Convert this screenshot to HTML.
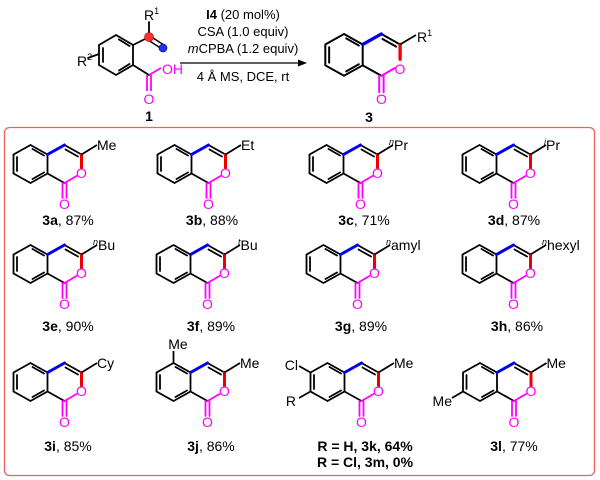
<!DOCTYPE html>
<html><head><style>
html,body{margin:0;padding:0;background:#fff;}
svg{display:block;font-family:"Liberation Sans",Arial,sans-serif;}
</style></head><body>
<svg width="600" height="480" viewBox="0 0 600 480" xmlns="http://www.w3.org/2000/svg">
<defs>
<g id="core" fill="none" stroke-linecap="round">
  <g stroke="#000" stroke-width="1.8">
    <polygon points="0,0 17,9.5 17,28.5 0,38 -17,28.5 -17,9.5"/>
    <line x1="-13.5" y1="12" x2="-13.5" y2="26"/>
    <line x1="2" y1="4" x2="13.5" y2="10.5"/>
    <line x1="2" y1="34" x2="13.5" y2="27.5"/>
    <line x1="34" y1="0" x2="51" y2="9.5"/>
    <line x1="35" y1="4.5" x2="47.5" y2="11.5"/>
    <line x1="17" y1="28.5" x2="34" y2="38"/>
  </g>
  <line x1="17" y1="9.5" x2="34" y2="0" stroke="#0000ee" stroke-width="3"/>
  <line x1="51" y1="9.5" x2="51" y2="23" stroke="#ee0000" stroke-width="3"/>
  <g stroke="#ff00ff" stroke-width="1.8">
    <line x1="46" y1="31" x2="34" y2="38"/>
    <line x1="32" y1="38" x2="32" y2="53"/>
    <line x1="36" y1="38" x2="36" y2="53"/>
  </g>
</g>
</defs>

<rect x="4.5" y="127.5" width="590" height="348" rx="5" fill="none" stroke="#f06060" stroke-width="1.3"/>

<!-- reactant 1 -->
<g stroke="#000" stroke-width="1.8" fill="none" stroke-linecap="round">
  <polygon points="116,35 133,45 133,65 116,75 99,65 99,45"/>
  <line x1="119" y1="39.5" x2="129.5" y2="46"/>
  <line x1="119" y1="70.5" x2="129.5" y2="64"/>
  <line x1="103" y1="48" x2="103" y2="62"/>
  <line x1="133" y1="45" x2="149" y2="37"/>
  <line x1="149" y1="37" x2="149" y2="22"/>
  <line x1="88" y1="58" x2="99" y2="54"/>
  <line x1="133" y1="65" x2="149" y2="75"/>
</g>
<line x1="150" y1="36" x2="164" y2="45" stroke="#000" stroke-width="1.4"/>
<line x1="148" y1="40" x2="162" y2="49" stroke="#000" stroke-width="1.4"/>
<circle cx="149" cy="37" r="4.5" fill="#ff3030" stroke="#a00" stroke-width="0.6"/>
<circle cx="163" cy="48" r="4" fill="#2030ff" stroke="#003" stroke-width="0.6"/>
<g stroke="#ff00ff" stroke-width="1.8">
  <line x1="149" y1="75" x2="161" y2="68"/>
  <line x1="147" y1="75" x2="147" y2="91"/>
  <line x1="151" y1="75" x2="151" y2="91"/>
</g>
<g font-size="14">
  <text x="144" y="20">R<tspan font-size="9" dy="-6">1</tspan></text>
  <text x="77" y="66">R<tspan font-size="9" dy="-6">2</tspan></text>
  <text x="162" y="74" fill="#ff00ff">OH</text>
  <text x="149" y="104" fill="#ff00ff" text-anchor="middle">O</text>
  <text x="149" y="121" text-anchor="middle" font-weight="bold">1</text>
</g>

<!-- arrow and conditions -->
<line x1="180" y1="63" x2="300" y2="63" stroke="#000" stroke-width="1.2"/>
<polygon points="307,63 298,59.5 298,66.5" fill="#000"/>
<g font-size="13" text-anchor="middle">
  <text x="243" y="19"><tspan font-weight="bold">I4</tspan> (20 mol%)</text>
  <text x="243" y="36">CSA (1.0 equiv)</text>
  <text x="243" y="53"><tspan font-style="italic">m</tspan>CPBA (1.2 equiv)</text>
  <text x="243" y="81">4 Å MS, DCE, rt</text>
</g>

<!-- product 3 -->
<use href="#core" transform="translate(344,34) scale(1.1)"/>
<g font-size="14">
  <text x="400" y="74" fill="#ff00ff" text-anchor="middle">O</text>
  <text x="381.5" y="104" fill="#ff00ff" text-anchor="middle">O</text>
  <line x1="400" y1="44.5" x2="416" y2="35" stroke="#000" stroke-width="1.8"/>
  <text x="417" y="42">R<tspan font-size="9" dy="-6">1</tspan></text>
  <text x="369" y="122" text-anchor="middle" font-weight="bold">3</text>
</g>

<g font-size="14">
<!-- 3a -->
<use href="#core" transform="translate(30.5,145)"/>
<text x="81.5" y="178" fill="#ff00ff" text-anchor="middle">O</text><text x="64.5" y="209" fill="#ff00ff" text-anchor="middle">O</text>
<line x1="81.5" y1="154.5" x2="97" y2="145" stroke="#000" stroke-width="1.8"/><text x="97" y="150">Me</text>
<text x="68" y="225" text-anchor="middle"><tspan font-weight="bold">3a</tspan>, 87%</text>
<!-- 3b -->
<use href="#core" transform="translate(174.5,145)"/>
<text x="225.5" y="178" fill="#ff00ff" text-anchor="middle">O</text><text x="208.5" y="209" fill="#ff00ff" text-anchor="middle">O</text>
<line x1="225.5" y1="154.5" x2="241" y2="145" stroke="#000" stroke-width="1.8"/><text x="241" y="150">Et</text>
<text x="212" y="225" text-anchor="middle"><tspan font-weight="bold">3b</tspan>, 88%</text>
<!-- 3c -->
<use href="#core" transform="translate(326.5,145)"/>
<text x="377.5" y="178" fill="#ff00ff" text-anchor="middle">O</text><text x="360.5" y="209" fill="#ff00ff" text-anchor="middle">O</text>
<line x1="377.5" y1="154.5" x2="393" y2="145" stroke="#000" stroke-width="1.8"/><text x="389" y="150"><tspan font-size="9" font-style="italic" dy="-5">n</tspan><tspan dy="5">Pr</tspan></text>
<text x="364" y="225" text-anchor="middle"><tspan font-weight="bold">3c</tspan>, 71%</text>
<!-- 3d -->
<use href="#core" transform="translate(479.5,145)"/>
<text x="530.5" y="178" fill="#ff00ff" text-anchor="middle">O</text><text x="513.5" y="209" fill="#ff00ff" text-anchor="middle">O</text>
<line x1="530.5" y1="154.5" x2="546" y2="145" stroke="#000" stroke-width="1.8"/><text x="544" y="150"><tspan font-size="9" font-style="italic" dy="-5">i</tspan><tspan dy="5">Pr</tspan></text>
<text x="514" y="225" text-anchor="middle"><tspan font-weight="bold">3d</tspan>, 87%</text>

<!-- 3e -->
<use href="#core" transform="translate(30.5,245)"/>
<text x="81.5" y="278" fill="#ff00ff" text-anchor="middle">O</text><text x="64.5" y="309" fill="#ff00ff" text-anchor="middle">O</text>
<line x1="81.5" y1="254.5" x2="97" y2="245" stroke="#000" stroke-width="1.8"/><text x="93" y="250"><tspan font-size="9" font-style="italic" dy="-5">n</tspan><tspan dy="5">Bu</tspan></text>
<text x="68" y="331" text-anchor="middle"><tspan font-weight="bold">3e</tspan>, 90%</text>
<!-- 3f -->
<use href="#core" transform="translate(173.5,245)"/>
<text x="224.5" y="278" fill="#ff00ff" text-anchor="middle">O</text><text x="207.5" y="309" fill="#ff00ff" text-anchor="middle">O</text>
<line x1="224.5" y1="254.5" x2="240" y2="245" stroke="#000" stroke-width="1.8"/><text x="238" y="250"><tspan font-size="9" font-style="italic" dy="-5">t</tspan><tspan dy="5">Bu</tspan></text>
<text x="211" y="331" text-anchor="middle"><tspan font-weight="bold">3f</tspan>, 89%</text>
<!-- 3g -->
<use href="#core" transform="translate(323.5,245)"/>
<text x="374.5" y="278" fill="#ff00ff" text-anchor="middle">O</text><text x="357.5" y="309" fill="#ff00ff" text-anchor="middle">O</text>
<line x1="374.5" y1="254.5" x2="390" y2="245" stroke="#000" stroke-width="1.8"/><text x="386" y="250"><tspan font-size="9" font-style="italic" dy="-5">n</tspan><tspan dy="5">amyl</tspan></text>
<text x="361" y="331" text-anchor="middle"><tspan font-weight="bold">3g</tspan>, 89%</text>
<!-- 3h -->
<use href="#core" transform="translate(479.5,245)"/>
<text x="530.5" y="278" fill="#ff00ff" text-anchor="middle">O</text><text x="513.5" y="309" fill="#ff00ff" text-anchor="middle">O</text>
<line x1="530.5" y1="254.5" x2="546" y2="245" stroke="#000" stroke-width="1.8"/><text x="542" y="250"><tspan font-size="9" font-style="italic" dy="-5">n</tspan><tspan dy="5">hexyl</tspan></text>
<text x="517" y="331" text-anchor="middle"><tspan font-weight="bold">3h</tspan>, 86%</text>

<!-- 3i -->
<use href="#core" transform="translate(30.5,363)"/>
<text x="81.5" y="396" fill="#ff00ff" text-anchor="middle">O</text><text x="64.5" y="427" fill="#ff00ff" text-anchor="middle">O</text>
<line x1="81.5" y1="372.5" x2="97" y2="363" stroke="#000" stroke-width="1.8"/><text x="97" y="368">Cy</text>
<text x="68" y="451" text-anchor="middle"><tspan font-weight="bold">3i</tspan>, 85%</text>
<!-- 3j -->
<use href="#core" transform="translate(173.5,363)"/>
<text x="224.5" y="396" fill="#ff00ff" text-anchor="middle">O</text><text x="207.5" y="427" fill="#ff00ff" text-anchor="middle">O</text>
<line x1="224.5" y1="372.5" x2="240" y2="363" stroke="#000" stroke-width="1.8"/><text x="240" y="368">Me</text>
<line x1="173.5" y1="363" x2="173.5" y2="351" stroke="#000" stroke-width="1.8"/><text x="178" y="349" text-anchor="middle">Me</text>
<text x="211" y="451" text-anchor="middle"><tspan font-weight="bold">3j</tspan>, 86%</text>
<!-- 3k -->
<use href="#core" transform="translate(327.5,363)"/>
<text x="378.5" y="396" fill="#ff00ff" text-anchor="middle">O</text><text x="361.5" y="427" fill="#ff00ff" text-anchor="middle">O</text>
<line x1="378.5" y1="372.5" x2="394" y2="363" stroke="#000" stroke-width="1.8"/><text x="394" y="368">Me</text>
<line x1="310.5" y1="372.5" x2="299" y2="366" stroke="#000" stroke-width="1.8"/><text x="298" y="370" text-anchor="end">Cl</text>
<line x1="310.5" y1="391.5" x2="299" y2="398" stroke="#000" stroke-width="1.8"/><text x="296" y="406" text-anchor="end">R</text>
<text x="365" y="451" text-anchor="middle" font-weight="bold">R = H, 3k, 64%</text>
<text x="365" y="467" text-anchor="middle" font-weight="bold">R = Cl, 3m, 0%</text>
<!-- 3l -->
<use href="#core" transform="translate(480,363)"/>
<text x="531" y="396" fill="#ff00ff" text-anchor="middle">O</text><text x="514" y="427" fill="#ff00ff" text-anchor="middle">O</text>
<line x1="531" y1="372.5" x2="546.5" y2="363" stroke="#000" stroke-width="1.8"/><text x="546.5" y="368">Me</text>
<line x1="463" y1="391.5" x2="452" y2="398" stroke="#000" stroke-width="1.8"/><text x="452" y="406" text-anchor="end">Me</text>
<text x="514" y="451" text-anchor="middle"><tspan font-weight="bold">3l</tspan>, 77%</text>
</g>
</svg>
</body></html>
